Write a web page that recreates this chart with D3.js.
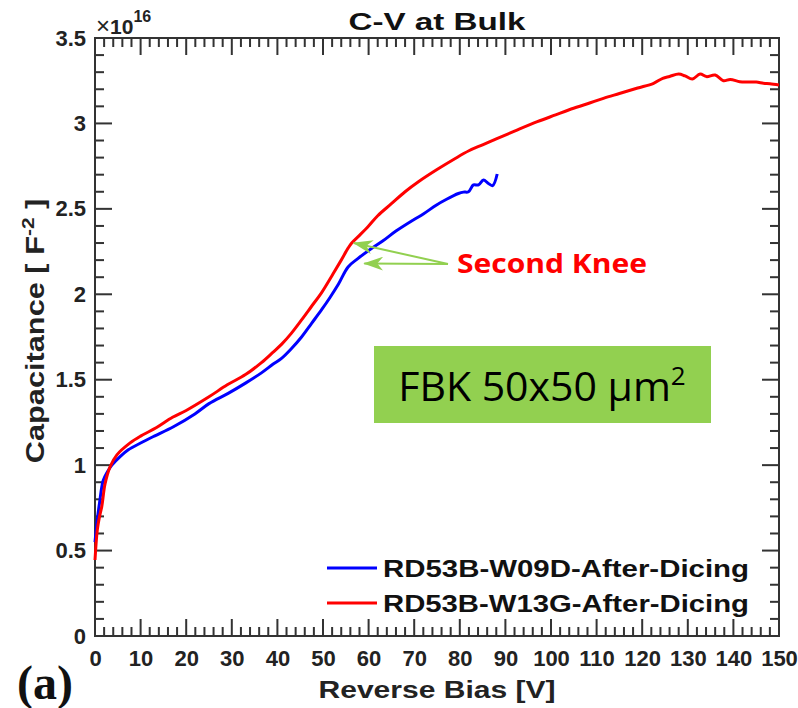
<!DOCTYPE html>
<html>
<head>
<meta charset="utf-8">
<script src="https://cdn.jsdelivr.net/npm/d3@7"></script>
<style>
  body { margin: 0; background: #fff; }
  .tick text { font-family: "Liberation Sans", Arial, sans-serif; font-weight: bold; fill: #222; }
</style>
</head>
<body>
<svg id="chart" width="798" height="708"></svg>
<script>
// reverse bias [V] and 1/C^2 [x1e16 F^-2]
let redV = [0, 0.5, 1, 1.5, 2.2, 3.3, 4.8, 7.7, 10, 13.5, 17, 20, 25, 29, 33, 36.5, 39, 41, 43, 45.3, 47.5, 49.7, 52, 54, 55.5, 56.3,
  58, 60, 62, 65, 68, 71, 75, 79, 82, 85, 88, 92, 97, 101, 104, 108, 111.5, 115, 119, 122.5, 124.5, 126, 128, 129.4, 131,
  132.7, 134.1, 136, 137.8, 139.3, 141.4, 143, 145, 146.6, 148, 150];
let redC = [0.445, 0.62, 0.7, 0.76, 0.89, 0.99, 1.06, 1.13, 1.17, 1.22, 1.28, 1.32, 1.40, 1.47, 1.53, 1.60, 1.66, 1.71, 1.77, 1.85, 1.93, 2.01, 2.11, 2.20, 2.27, 2.30,
  2.345, 2.40, 2.46, 2.53, 2.60, 2.66, 2.73, 2.795, 2.84, 2.875, 2.91, 2.955, 3.01, 3.05, 3.08, 3.115, 3.147, 3.175, 3.207, 3.235, 3.264, 3.275, 3.289, 3.278, 3.26,
  3.289, 3.274, 3.283, 3.25, 3.257, 3.244, 3.242, 3.242, 3.235, 3.232, 3.225];

let blueV = [0, 0.5, 1, 1.8, 2.7, 3.7, 5.5, 7.3, 9.9, 13, 17.2, 21.9, 25, 29.2, 33, 36.5, 39, 40.9, 43, 45.3, 47.5, 49.7, 51.5, 53.4, 55.5, 57.7,
  60.7, 63, 66, 69.8, 72, 74.9, 77, 79.7, 80.8, 81.9, 83, 84.1, 85.2, 86.2, 87.2, 88.2];
let blueC = [0.55, 0.68, 0.78, 0.91, 0.96, 1.0, 1.05, 1.09, 1.128, 1.17, 1.225, 1.30, 1.36, 1.42, 1.48, 1.54, 1.59, 1.625, 1.68, 1.75, 1.83, 1.91, 1.98, 2.06, 2.16, 2.21,
  2.27, 2.31, 2.37, 2.435, 2.47, 2.523, 2.555, 2.59, 2.598, 2.60, 2.64, 2.64, 2.669, 2.65, 2.636, 2.704];

let seriesNames = ["RD53B-W09D-After-Dicing", "RD53B-W13G-After-Dicing"];
let seriesColors = ["#0000ff", "#ff0000"];

let xMajor = d3.range(0, 151, 10);
let xMinor = d3.range(0, 151, 2);
let yMajor = [0, 0.5, 1, 1.5, 2, 2.5, 3, 3.5];
let yMinor = d3.range(0, 36).map(d => d / 10);

// knee points the arrows point at
let kneeV = [56.3, 58.6];
let kneeC = [2.30, 2.18];

let pLeft = 95, pRight = 779, pTop = 38, pBottom = 636;

let svg = d3.select("#chart");
let x = d3.scaleLinear().domain([0, 150]).range([pLeft, pRight]);
let y = d3.scaleLinear().domain([0, 3.5]).range([pBottom, pTop]);

let fmtY = d => d === 0 ? "0" : String(d);
let isMajor = (d, step) => Math.abs(d / step - Math.round(d / step)) < 1e-6;

// inward ticks on all four sides, drawn as thin filled bars
let minorLen = 9, majorLen = 17, tw = 2;
let xTickLen = d => isMajor(d, 10) ? majorLen : minorLen;
let yTickLen = d => isMajor(d, 0.5) ? majorLen : minorLen;
let ticks = svg.append("g").attr("fill", "#333");
ticks.selectAll("rect.xb").data(xMinor).join("rect").attr("class", "xb")
  .attr("x", d => x(d) - tw / 2).attr("width", tw)
  .attr("y", d => pBottom - xTickLen(d)).attr("height", d => xTickLen(d));
ticks.selectAll("rect.xt").data(xMinor).join("rect").attr("class", "xt")
  .attr("x", d => x(d) - tw / 2).attr("width", tw)
  .attr("y", pTop).attr("height", d => xTickLen(d));
ticks.selectAll("rect.yl").data(yMinor).join("rect").attr("class", "yl")
  .attr("y", d => y(d) - tw / 2).attr("height", tw)
  .attr("x", pLeft).attr("width", d => yTickLen(d));
ticks.selectAll("rect.yr").data(yMinor).join("rect").attr("class", "yr")
  .attr("y", d => y(d) - tw / 2).attr("height", tw)
  .attr("x", d => pRight - yTickLen(d)).attr("width", d => yTickLen(d));

// tick labels from d3 axes
let xg = svg.append("g").attr("transform", `translate(0,${pBottom})`)
  .call(d3.axisBottom(x).tickValues(xMajor).tickFormat(d3.format("d")).tickSize(0));
xg.select(".domain").remove();
xg.selectAll(".tick text").attr("y", 14).attr("font-size", 22);

let yg = svg.append("g").attr("transform", `translate(${pLeft},0)`)
  .call(d3.axisLeft(y).tickValues(yMajor).tickFormat(fmtY).tickSize(0));
yg.select(".domain").remove();
yg.selectAll(".tick text").attr("x", -9).attr("font-size", 22);

svg.append("rect")
  .attr("x", pLeft).attr("y", pTop).attr("width", pRight - pLeft).attr("height", pBottom - pTop)
  .attr("fill", "none").attr("stroke", "#333").attr("stroke-width", 2);

// curves
let line = d3.line().x(d => x(d[0])).y(d => y(d[1])).curve(d3.curveCatmullRom.alpha(0.5));
let blueData = blueV.map((v, i) => [v, blueC[i]]);
let redData = redV.map((v, i) => [v, redC[i]]);

svg.append("path").datum(blueData).attr("d", line)
  .attr("fill", "none").attr("stroke", seriesColors[0]).attr("stroke-width", 3).attr("stroke-linejoin", "round");
svg.append("path").datum(redData).attr("d", line)
  .attr("fill", "none").attr("stroke", seriesColors[1]).attr("stroke-width", 3).attr("stroke-linejoin", "round");

// texts
let font = '"Liberation Sans", Arial, sans-serif';
svg.append("text").attr("x", (pLeft + pRight) / 2).attr("y", 30).attr("text-anchor", "middle")
  .attr("font-family", font).attr("font-weight", "bold").attr("font-size", 24).attr("fill", "#111")
  .attr("textLength", 177).attr("lengthAdjust", "spacingAndGlyphs")
  .text("C-V at Bulk");

let expo = svg.append("text").attr("x", 96).attr("y", 34)
  .attr("font-family", font).attr("font-weight", "bold").attr("font-size", 21).attr("fill", "#222");
expo.append("tspan").attr("font-weight", "normal").attr("font-size", 24).text("\u00d7");
expo.append("tspan").text("10");
expo.append("tspan").attr("dy", -12).attr("font-size", 16).text("16");

svg.append("text").attr("x", (pLeft + pRight) / 2).attr("y", 698).attr("text-anchor", "middle")
  .attr("font-family", font).attr("font-weight", "bold").attr("font-size", 23).attr("fill", "#222")
  .attr("textLength", 237).attr("lengthAdjust", "spacingAndGlyphs")
  .text("Reverse Bias [V]");

let yl = svg.append("text").attr("transform", `translate(44,331) rotate(-90) scale(1.23,1)`)
  .attr("text-anchor", "middle")
  .attr("font-family", font).attr("font-weight", "bold").attr("font-size", 25).attr("fill", "#222");
yl.append("tspan").text("Capacitance [ F");
yl.append("tspan").attr("dy", -10).attr("font-size", 17).text("-2");
yl.append("tspan").attr("dy", 10).text(" ]");

svg.append("text").attr("x", 17).attr("y", 699)
  .attr("font-family", '"Liberation Serif", "Times New Roman", serif').attr("font-weight", "bold")
  .attr("font-size", 48).attr("fill", "#111").text("(a)");

// legend
let legend = svg.append("g");
seriesNames.forEach((name, i) => {
  let ly = 568 + i * 35;
  legend.append("line").attr("x1", 327).attr("x2", 377).attr("y1", ly).attr("y2", ly)
    .attr("stroke", seriesColors[i]).attr("stroke-width", 3);
  legend.append("text").attr("x", 383).attr("y", ly + 9)
    .attr("font-family", font).attr("font-weight", "bold").attr("font-size", 24).attr("fill", "#111")
    .attr("textLength", 366).attr("lengthAdjust", "spacingAndGlyphs")
    .text(name);
});

// green label box
svg.append("rect").attr("x", 374).attr("y", 346).attr("width", 337).attr("height", 77).attr("fill", "#92d050");
let fbk = svg.append("text").attr("x", 542).attr("y", 401).attr("text-anchor", "middle")
  .attr("font-family", '"Open Sans", "Noto Sans", sans-serif').attr("font-size", 41).attr("fill", "#000");
fbk.append("tspan").text("FBK 50x50 \u00b5m");
fbk.append("tspan").attr("dy", -16).attr("font-size", 26).text("2");

// second knee annotation
svg.append("defs").append("marker").attr("id", "arrowhead").attr("viewBox", "0 0 20 14")
  .attr("refX", 19).attr("refY", 7).attr("markerWidth", 20).attr("markerHeight", 14)
  .attr("markerUnits", "userSpaceOnUse").attr("orient", "auto")
  .append("path").attr("d", "M20,7 L0,0 L6,7 L0,14 Z").attr("fill", "#92d050");

let arrowFrom = [448, 264];
kneeV.forEach((v, i) => {
  svg.append("line").attr("x1", arrowFrom[0]).attr("y1", arrowFrom[1])
    .attr("x2", x(v) + 2).attr("y2", y(kneeC[i]))
    .attr("stroke", "#92d050").attr("stroke-width", 2)
    .attr("marker-end", "url(#arrowhead)");
});

svg.append("text").attr("x", 457).attr("y", 273)
  .attr("font-family", '"Open Sans", "Noto Sans", sans-serif').attr("font-weight", "bold")
  .attr("font-size", 27).attr("fill", "#ff0000")
  .attr("textLength", 190).attr("lengthAdjust", "spacingAndGlyphs")
  .text("Second Knee");
</script>
</body>
</html>
